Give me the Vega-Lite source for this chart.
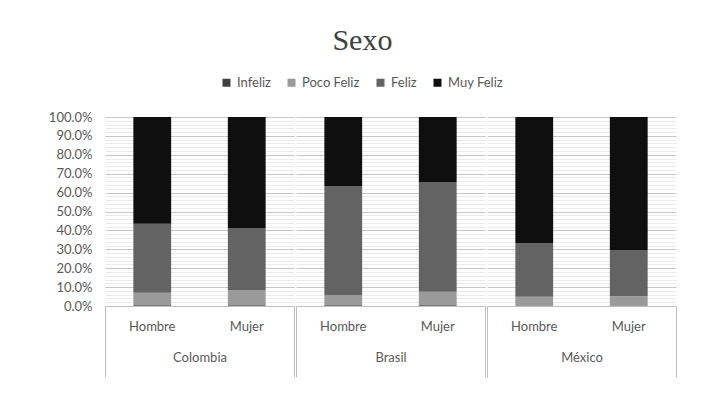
{
  "$schema": "https://vega.github.io/schema/vega-lite/v6.json",
  "autosize": {"type": "none"},
  "padding": {"left": 105, "top": 117, "right": 622, "bottom": 285},
  "background": "white",
  "title": {"text": "Sexo", "font": "Liberation Serif", "fontSize": 30, "fontWeight": "normal", "color": "#404040", "anchor": "middle", "offset": 20},
  "data": {"values": [
    {"pais": "Colombia", "sexo": "Hombre", "nivel": "Infeliz", "valor": 0.004},
    {"pais": "Colombia", "sexo": "Hombre", "nivel": "Poco Feliz", "valor": 0.066},
    {"pais": "Colombia", "sexo": "Hombre", "nivel": "Feliz", "valor": 0.365},
    {"pais": "Colombia", "sexo": "Hombre", "nivel": "Muy Feliz", "valor": 0.565},
    {"pais": "Colombia", "sexo": "Mujer", "nivel": "Infeliz", "valor": 0.004},
    {"pais": "Colombia", "sexo": "Mujer", "nivel": "Poco Feliz", "valor": 0.081},
    {"pais": "Colombia", "sexo": "Mujer", "nivel": "Feliz", "valor": 0.328},
    {"pais": "Colombia", "sexo": "Mujer", "nivel": "Muy Feliz", "valor": 0.587},
    {"pais": "Brasil", "sexo": "Hombre", "nivel": "Infeliz", "valor": 0.004},
    {"pais": "Brasil", "sexo": "Hombre", "nivel": "Poco Feliz", "valor": 0.054},
    {"pais": "Brasil", "sexo": "Hombre", "nivel": "Feliz", "valor": 0.577},
    {"pais": "Brasil", "sexo": "Hombre", "nivel": "Muy Feliz", "valor": 0.365},
    {"pais": "Brasil", "sexo": "Mujer", "nivel": "Infeliz", "valor": 0.004},
    {"pais": "Brasil", "sexo": "Mujer", "nivel": "Poco Feliz", "valor": 0.072},
    {"pais": "Brasil", "sexo": "Mujer", "nivel": "Feliz", "valor": 0.58},
    {"pais": "Brasil", "sexo": "Mujer", "nivel": "Muy Feliz", "valor": 0.344},
    {"pais": "México", "sexo": "Hombre", "nivel": "Infeliz", "valor": 0.003},
    {"pais": "México", "sexo": "Hombre", "nivel": "Poco Feliz", "valor": 0.046},
    {"pais": "México", "sexo": "Hombre", "nivel": "Feliz", "valor": 0.284},
    {"pais": "México", "sexo": "Hombre", "nivel": "Muy Feliz", "valor": 0.667},
    {"pais": "México", "sexo": "Mujer", "nivel": "Infeliz", "valor": 0.003},
    {"pais": "México", "sexo": "Mujer", "nivel": "Poco Feliz", "valor": 0.048},
    {"pais": "México", "sexo": "Mujer", "nivel": "Feliz", "valor": 0.245},
    {"pais": "México", "sexo": "Mujer", "nivel": "Muy Feliz", "valor": 0.704}
  ]},
  "transform": [
    {"calculate": "indexof(['Infeliz', 'Poco Feliz', 'Feliz', 'Muy Feliz'], datum.nivel)", "as": "orden"}
  ],
  "facet": {"column": {"field": "pais", "type": "nominal", "sort": ["Colombia", "Brasil", "México"], "header": {"title": null, "labels": false}}},
  "spacing": 0,
  "resolve": {"scale": {"x": "independent"}},
  "spec": {
    "width": 189,
    "height": 189,
    "layer": [
      {
        "mark": {"type": "bar"},
        "encoding": {
          "x": {"field": "sexo", "type": "nominal", "sort": ["Hombre", "Mujer"],
            "scale": {"paddingInner": 0.6, "paddingOuter": 0.3},
            "axis": {"title": null, "orient": "bottom", "labelAngle": 0, "ticks": false, "domain": true, "domainColor": "#bfbfbf", "labelPadding": 14, "labelFont": "Lato", "labelFontSize": 13, "labelColor": "#595959", "grid": false}},
          "y": {"field": "valor", "type": "quantitative", "stack": "zero",
            "scale": {"domain": [0, 1], "nice": false},
            "axis": {"title": null, "ticks": false, "domain": false, "labelOverlap": false, "labelPadding": 12,
              "labelFont": "Lato", "labelFontSize": 13, "labelColor": "#595959",
              "values": [0, 0.02, 0.04, 0.06, 0.08, 0.1, 0.12, 0.14, 0.16, 0.18, 0.2, 0.22, 0.24, 0.26, 0.28, 0.3, 0.32, 0.34, 0.36, 0.38, 0.4, 0.42, 0.44, 0.46, 0.48, 0.5, 0.52, 0.54, 0.56, 0.58, 0.6, 0.62, 0.64, 0.66, 0.68, 0.7, 0.72, 0.74, 0.76, 0.78, 0.8, 0.82, 0.84, 0.86, 0.88, 0.9, 0.92, 0.94, 0.96, 0.98, 1.0],
              "labelExpr": "round(datum.value*100) % 10 == 0 ? format(datum.value, '.1%') : ''",
              "grid": true,
              "gridColor": {"condition": {"test": "round(datum.value*100) % 10 == 0", "value": "#c6c6c6"}, "value": "#ebebeb"}}},
          "order": {"field": "orden", "type": "quantitative", "sort": "ascending"},
          "color": {"field": "nivel", "type": "nominal", "sort": ["Infeliz", "Poco Feliz", "Feliz", "Muy Feliz"],
            "scale": {"domain": ["Infeliz", "Poco Feliz", "Feliz", "Muy Feliz"], "range": ["#404040", "#9a9a9a", "#636363", "#0f0f0f"]},
            "legend": {"title": null, "orient": "none", "direction": "horizontal", "legendX": 115, "legendY": -41,
              "symbolType": "square", "symbolSize": 64, "symbolStrokeWidth": 0, "labelFont": "Lato", "labelFontSize": 13, "labelColor": "#595959", "columnPadding": 14, "labelOffset": 4}}
        }
      },
      {
        "mark": {"type": "tick", "opacity": 0},
        "encoding": {
          "x": {"field": "pais", "type": "nominal",
            "scale": {"paddingInner": 0, "paddingOuter": 0},
            "axis": {"title": null, "orient": "bottom", "labelAngle": 0, "tickBand": "extent", "ticks": true, "tickSize": 71, "tickColor": "#bfbfbf", "domain": false, "grid": false, "labelPadding": -26, "labelFont": "Lato", "labelFontSize": 13, "labelColor": "#595959"}}
        }
      }
    ],
    "resolve": {"scale": {"x": "independent"}}
  },
  "config": {"view": {"stroke": null}}
}
